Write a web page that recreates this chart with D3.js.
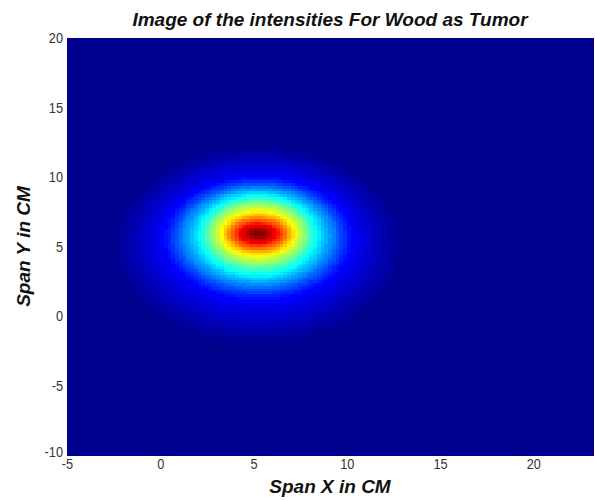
<!DOCTYPE html>
<html>
<head>
<meta charset="utf-8">
<script src="https://cdn.jsdelivr.net/npm/d3@7"></script>
<style>
  html, body { margin: 0; padding: 0; background: #ffffff; }
  svg { display: block; }
  .tick text { font-family: "Liberation Sans", Arial, sans-serif; font-size: 15px; fill: #333; }
  .title { font-family: "Liberation Sans", Arial, sans-serif; font-style: italic; font-weight: bold; font-size: 19px; fill: #111; }
  .axis-label { font-family: "Liberation Sans", Arial, sans-serif; font-style: italic; font-weight: bold; font-size: 19px; fill: #111; }
</style>
</head>
<body>
<svg id="chart" width="595" height="500"></svg>
<script>
// Intensity map labels
const chartTitle = "Image of the intensities For Wood as Tumor";
const xLabel = "Span X in CM";
const yLabel = "Span Y in CM";

// Axis ranges and tick values (cm)
const xRange = [-5, 23.2];
const yRange = [-10, 20];
const xTicks = [-5, 0, 5, 10, 15, 20];
const yTicks = [-10, -5, 0, 5, 10, 15, 20];

// Centre of the intensity spot (cm)
const spotCenter = [5.25, 5.95];

// Normalised intensity contours: level, semi-axes (cm) along X and Y,
// and vertical offset (cm) of each contour's centre from the spot centre
const levelValues = [1.0, 0.95, 0.875, 0.75, 0.625, 0.5, 0.375, 0.25, 0.125, 0.06, 0.02, 0.0];
const levelSemiX  = [0.0, 0.55, 1.0,   1.5,  1.95,  2.5, 3.1,   4.0,  5.0,   6.3,  7.4,  8.0];
const levelSemiY  = [0.0, 0.35, 0.7,   1.1,  1.6,   2.2, 2.85,  3.5,  4.4,   5.8,  6.9,  7.5];
const levelShiftY = [0.0, 0.0,  0.0,   0.0,  0.0,   0.0, -0.1,  -0.2, -0.35, -0.6, -0.8, -0.8];

// Grid resolution of the image (cm)
const cellSize = 0.2;

// MATLAB-style jet colormap with 64 entries
function jetMap(m) {
  const n = Math.ceil(m / 4);
  const u = [];
  for (let i = 1; i <= n; i++) u.push(i / n);
  for (let i = 1; i < n; i++) u.push(1);
  for (let i = n; i >= 1; i--) u.push(i / n);
  const g0 = Math.ceil(n / 2) - (m % 4 === 1 ? 1 : 0);
  const J = d3.range(m).map(() => [0, 0, 0]);
  u.forEach((val, k) => {
    const g = g0 + k + 1, r = g + n, b = g - n;
    if (r >= 1 && r <= m) J[r - 1][0] = val;
    if (g >= 1 && g <= m) J[g - 1][1] = val;
    if (b >= 1 && b <= m) J[b - 1][2] = val;
  });
  return J.map(c => d3.rgb(c[0] * 255, c[1] * 255, c[2] * 255).formatHex());
}
const jet = jetMap(64);
const colorScale = d3.scaleQuantize().domain([0, 1]).range(jet);

// Intensity at a point: locate the pair of contours around it and
// blend their levels by how far the point sits between them
function intensity(x, y) {
  const dx = x - spotCenter[0], dy = y - spotCenter[1];
  const e = i => Math.hypot(dx / levelSemiX[i], (dy - levelShiftY[i]) / levelSemiY[i]);
  const last = levelValues.length - 1;
  // inside the first contour: blend from the peak outwards
  const e1 = e(1);
  if (e1 <= 1) return levelValues[0] + e1 * (levelValues[1] - levelValues[0]);
  for (let i = 1; i < last; i++) {
    const fOut = e(i) - 1, fIn = e(i + 1) - 1;
    if (fIn <= 0) {
      const t = fOut / (fOut - fIn);
      return levelValues[i] + Math.max(0, Math.min(1, t)) * (levelValues[i + 1] - levelValues[i]);
    }
  }
  return levelValues[last];
}

const svg = d3.select("#chart");
const plot = { left: 67, right: 593, top: 38, bottom: 455 };

const x = d3.scaleLinear().domain(xRange).range([plot.left, plot.right]);
const y = d3.scaleLinear().domain(yRange).range([plot.bottom, plot.top]);

// Image cells
const cols = d3.range(xRange[0], xRange[1] - 1e-9, cellSize);
const rows = d3.range(yRange[0], yRange[1] - 1e-9, cellSize);
const cells = [];
rows.forEach(yy => cols.forEach(xx => {
  cells.push({ x0: xx, y0: yy, v: intensity(xx + cellSize / 2, yy + cellSize / 2) });
}));

svg.append("g")
  .attr("shape-rendering", "crispEdges")
  .selectAll("rect")
  .data(cells)
  .join("rect")
  .attr("x", d => x(d.x0))
  .attr("y", d => y(Math.min(d.y0 + cellSize, yRange[1])))
  .attr("width", d => x(Math.min(d.x0 + cellSize, xRange[1])) - x(d.x0) + 0.5)
  .attr("height", d => y(d.y0) - y(Math.min(d.y0 + cellSize, yRange[1])) + 0.5)
  .attr("fill", d => colorScale(d.v));

// Axes (plain hyphen for negative ticks, slightly condensed digits)
const tickText = d => String(d);
const squeeze = 0.85;

const xAxis = svg.append("g")
  .attr("transform", `translate(0,${plot.bottom})`)
  .call(d3.axisBottom(x).tickValues(xTicks).tickSize(0).tickPadding(3).tickFormat(tickText));
xAxis.select(".domain").remove();
xAxis.selectAll(".tick text").attr("transform", `scale(${squeeze},1)`);

const yAxis = svg.append("g")
  .attr("transform", `translate(${plot.left},0)`)
  .call(d3.axisLeft(y).tickValues(yTicks).tickSize(0).tickPadding(4).tickFormat(tickText));
yAxis.select(".domain").remove();
yAxis.selectAll(".tick text")
  .attr("x", -4 / squeeze)
  .attr("transform", `scale(${squeeze},1)`);
yAxis.selectAll(".tick").filter(d => d === yRange[0]).select("text").attr("dy", "0.1em");

// Title and axis labels
svg.append("text").attr("class", "title")
  .attr("x", (plot.left + plot.right) / 2).attr("y", 26)
  .attr("text-anchor", "middle").text(chartTitle);

svg.append("text").attr("class", "axis-label")
  .attr("x", (plot.left + plot.right) / 2).attr("y", 493)
  .attr("text-anchor", "middle").text(xLabel);

svg.append("text").attr("class", "axis-label")
  .attr("transform", `translate(30,${(plot.top + plot.bottom) / 2}) rotate(-90)`)
  .attr("text-anchor", "middle").text(yLabel);
</script>
</body>
</html>
